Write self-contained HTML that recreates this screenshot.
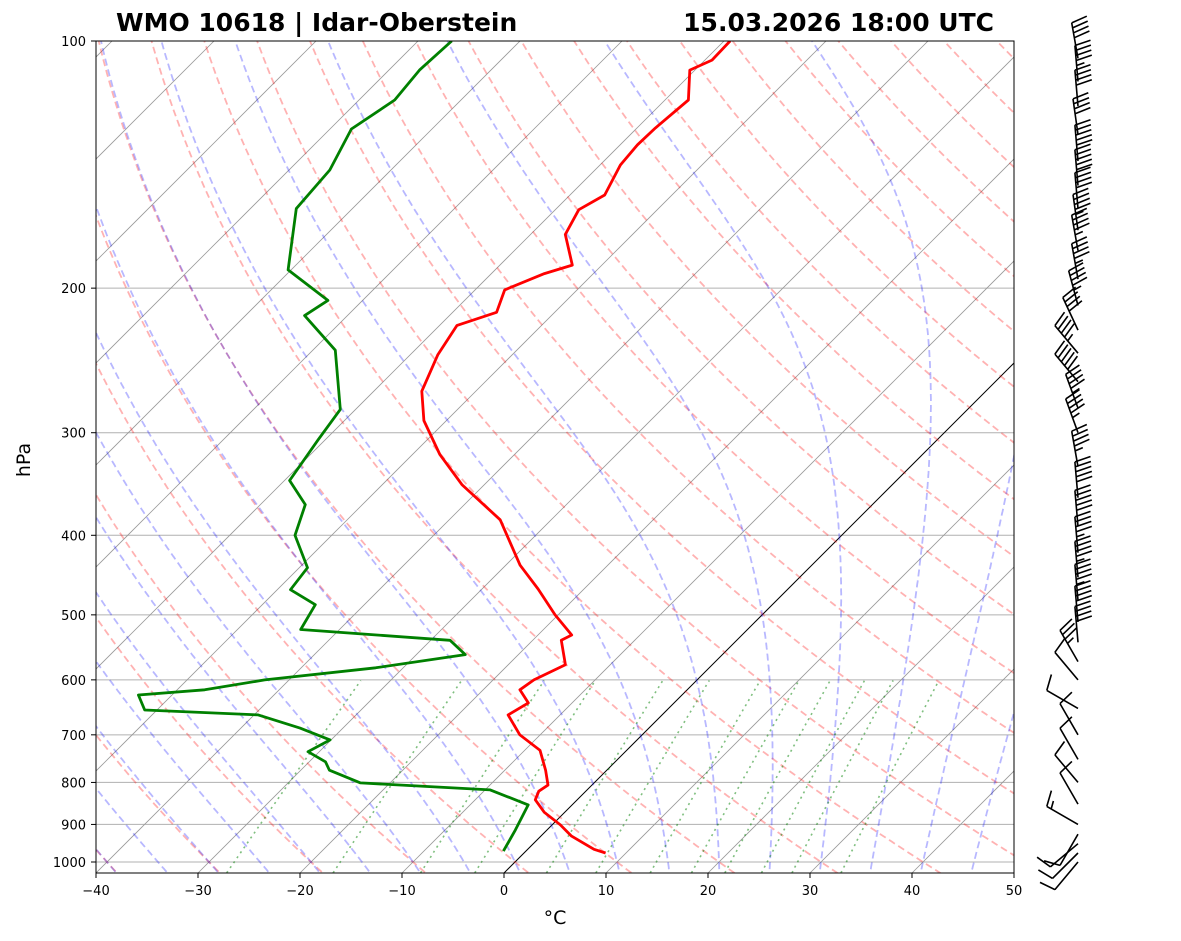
<!DOCTYPE html>
<html><head><meta charset="utf-8"><style>
body{margin:0;background:#fff;}
svg{display:block;font-family:"DejaVu Sans","Liberation Sans",sans-serif;}
</style></head><body>
<svg id="chart" width="1181" height="941" viewBox="0 0 1181 941" xmlns="http://www.w3.org/2000/svg">
<defs><clipPath id="plotclip"><rect x="96" y="41" width="918" height="832"/></clipPath></defs>
<rect width="1181" height="941" fill="#fff"/>
<text x="116" y="31" font-size="25" font-weight="bold">WMO 10618 | Idar-Oberstein</text>
<text x="994" y="31" font-size="25" font-weight="bold" text-anchor="end">15.03.2026 18:00 UTC</text>
<g id="bg" clip-path="url(#plotclip)"></g>
<g id="prof" clip-path="url(#plotclip)"></g>
<rect x="96" y="41" width="918" height="832" fill="none" stroke="#000" stroke-width="1"/>
<g id="axes"></g>
<text x="555" y="924" font-size="19" text-anchor="middle">°C</text>
<text transform="translate(30,460) rotate(-90)" font-size="19" text-anchor="middle">hPa</text>
<g id="barbs"></g>
</svg>
<script>
// ---- data ----
const tempP = [975,965,930,901,870,840,820,806,773,731,700,662,640,617,600,575,537,529,500,465,435,383,347,319,290,267,241,222,214,201,192,187.5,172,160.5,154,141.6,133.8,127.6,118,108.5,105.5,100];
const tempT = [8.0,6.5,3.0,0.8,-2.0,-4.1,-4.6,-4.3,-6.0,-8.5,-12.0,-15.1,-14.3,-16.4,-16.0,-14.4,-17.2,-16.7,-20.3,-24.5,-28.6,-35,-42.2,-47.3,-52.2,-55.3,-57.3,-58.3,-55.7,-57.1,-54.8,-52.9,-56.6,-57.7,-56.6,-58,-58.3,-58.2,-57.7,-60.5,-59.3,-59.4];
const dewP = [970,914,852,817,801,773,755,734,710,687,662,653,626,617,600,580,559,537,521,486,466,438,400,367,343,306,281,238,216,207,190,160,143.6,128,118,108.5,100];
const dewT = [-2.2,-3.1,-4.3,-9.5,-22.9,-27.2,-28.4,-31.1,-30.1,-34.2,-39.6,-51.2,-53.3,-47.3,-42.4,-32.7,-25.2,-28.1,-43.8,-44.8,-48.7,-49.2,-53.6,-55.6,-59.5,-60.7,-61.5,-67.8,-74.2,-73.4,-80.3,-85.5,-86,-87.9,-86.5,-87,-86.7];
const barbP = [1000,975,950,925,900,850,800,750,700,650,600,570,540,510,480,450,420,390,360,330,300,280,260,240,225,210,195,180,170,160,150,140,130,120,112,105];
const barbSpd = [10,10,12,12,15,10,10,10,8,8,8,35,40,40,45,45,45,50,50,45,45,45,50,45,40,45,45,45,45,40,50,50,40,40,45,40];
const barbDir = [220,225,230,210,300,330,320,330,330,300,320,330,355,355,355,355,355,355,355,350,340,340,320,320,335,345,350,350,352,355,355,355,352,355,355,350];
const xTicks = [-40,-30,-20,-10,0,10,20,30,40,50];
const pTicks = [100,200,300,400,500,600,700,800,900,1000];
const dryT0 = [-40,-30,-20,-10,0,10,20,30,40,50,60,70,80,90,100,110,120,130,140,150,160,170,180,190,200];
const moistT0 = [-45,-40,-35,-30,-25,-20,-15,-10,-5,0,5,10,15,20,25,30,35,40,45,50];
const mixW = [0.0004,0.001,0.002,0.003,0.005,0.007,0.01,0.013,0.016,0.02,0.024,0.032];

// ---- scales ----
const Y0=41, DEC=821, XB=873;
function py(p){return Y0+DEC*Math.log10(p/100);}
function tx(T,p){const y=py(p);return 504+T*10.2+(XB-y);}
const NS="http://www.w3.org/2000/svg";
function mk(tag,attrs,parent){const e=document.createElementNS(NS,tag);for(const k in attrs)e.setAttribute(k,attrs[k]);parent.appendChild(e);return e;}
function pathFrom(pts){return pts.map((q,i)=>(i?'L':'M')+q[0].toFixed(1)+' '+q[1].toFixed(1)).join('');}
const bg=document.getElementById('bg'), prof=document.getElementById('prof'), axes=document.getElementById('axes'), barbs=document.getElementById('barbs');

pTicks.forEach(p=>{
 const l=mk('line',{x1:96,x2:1014,y1:py(p),y2:py(p),stroke:'#b0b0b0','stroke-width':1},bg);
 
 
});
for(let T=-140;T<=50;T+=10){
 const l=mk('path',{d:pathFrom([[tx(T,1050),py(1050)],[tx(T,90),py(90)]]),stroke:T===0?'#000':'#999','stroke-width':T===0?1:0.8,fill:'none'},bg);
 
 
}
const plev=[];for(let p=1050;p>=95;p-=5)plev.push(p);
dryT0.forEach(t0=>{
 const th=t0+273.15;
 const pts=plev.map(p=>[tx(th*Math.pow(p/1000,0.2857)-273.15,p),py(p)]);
 const l=mk('path',{d:pathFrom(pts),stroke:'#ff0000','stroke-opacity':0.3,'stroke-width':1.8,'stroke-dasharray':'7,4',fill:'none'},bg);
 
 
});
function es(T){return 6.112*Math.exp(17.67*T/(T+243.5));}
function dTdp(T,p){const Tk=T+273.15,Rd=287.04,cp=1005.7,Lv=2.501e6,eps=0.622;const e=es(T);const rs=eps*e/(p-e);
 return (Rd*Tk+Lv*rs)/(cp+Lv*Lv*rs*eps/(Rd*Tk*Tk))/p;}
function moist(t0){
 const up=[],dn=[];let T=t0;
 for(let p=1000;p>=95;p-=2){up.push([p,T]);const k=dTdp(T,p);T-=k*2;}
 T=t0;for(let p=1000;p<=1052;p+=2){dn.push([p,T]);T+=dTdp(T,p)*2;}
 return dn.reverse().concat(up);
}
moistT0.forEach(t0=>{
 const pts=moist(t0).map(a=>[tx(a[1],a[0]),py(a[0])]);
 const l=mk('path',{d:pathFrom(pts),stroke:'#0000ff','stroke-opacity':0.28,'stroke-width':1.8,'stroke-dasharray':'7,4',fill:'none'},bg);
 
 
});
mixW.forEach(w=>{
 const pts=[];
 for(let p=1031;p>=600;p-=10){const e=w*p/(0.622+w);const a=Math.log(e/6.112);const Td=243.5*a/(17.67-a);pts.push([tx(Td,p),py(p)]);}
 const l=mk('path',{d:pathFrom(pts),stroke:'#008000','stroke-opacity':0.5,'stroke-width':1.6,'stroke-dasharray':'2,4',fill:'none'},bg);
 
 
});
const tl=mk('path',{d:pathFrom(tempP.map((p,i)=>[tx(tempT[i],p),py(p)])),stroke:'#ff0000','stroke-width':2.8,fill:'none','stroke-linejoin':'round'},prof);


const dl=mk('path',{d:pathFrom(dewP.map((p,i)=>[tx(dewT[i],p),py(p)])),stroke:'#008000','stroke-width':2.8,fill:'none','stroke-linejoin':'round'},prof);


xTicks.forEach(t=>{
 const x=96+(t+40)*10.2;
 mk('line',{x1:x,x2:x,y1:873,y2:878,stroke:'#000'},axes);
 const lb=mk('text',{x:x,y:895,'font-size':13,'text-anchor':'middle'},axes);
 lb.textContent=(t<0?'\u2212':'')+Math.abs(t);
 
 
});
pTicks.forEach(p=>{
 const y=py(p);
 mk('line',{x1:91,x2:96,y1:y,y2:y,stroke:'#000'},axes);
 const lb=mk('text',{x:86,y:y+5,'font-size':13,'text-anchor':'end'},axes);
 lb.textContent=p;
 
 
});
barbP.forEach((p,i)=>{
 const ox=1078, oy=py(p);
 const d=barbDir[i]*Math.PI/180, L=36;
 const ux=Math.sin(d), uy=-Math.cos(d);
 const px=-uy, pyy=ux;
 const ex=ox+ux*L, ey=oy+uy*L;
 let s='M'+ox.toFixed(1)+' '+oy.toFixed(1)+'L'+ex.toFixed(1)+' '+ey.toFixed(1);
 let spd=Math.round(barbSpd[i]/5)*5, k=0;
 while(spd>=10){const bx=ex-ux*k*5, by=ey-uy*k*5;s+='M'+bx.toFixed(1)+' '+by.toFixed(1)+'L'+(bx+px*16+ux*4).toFixed(1)+' '+(by+pyy*16+uy*4).toFixed(1);spd-=10;k++;}
 if(spd>=5){if(k===0)k=1;const bx=ex-ux*k*5, by=ey-uy*k*5;s+='M'+bx.toFixed(1)+' '+by.toFixed(1)+'L'+(bx+px*8+ux*2).toFixed(1)+' '+(by+pyy*8+uy*2).toFixed(1);}
 const b=mk('path',{d:s,stroke:'#000','stroke-width':1.6,fill:'none'},barbs);
 
 
});
</script>
</body></html>
